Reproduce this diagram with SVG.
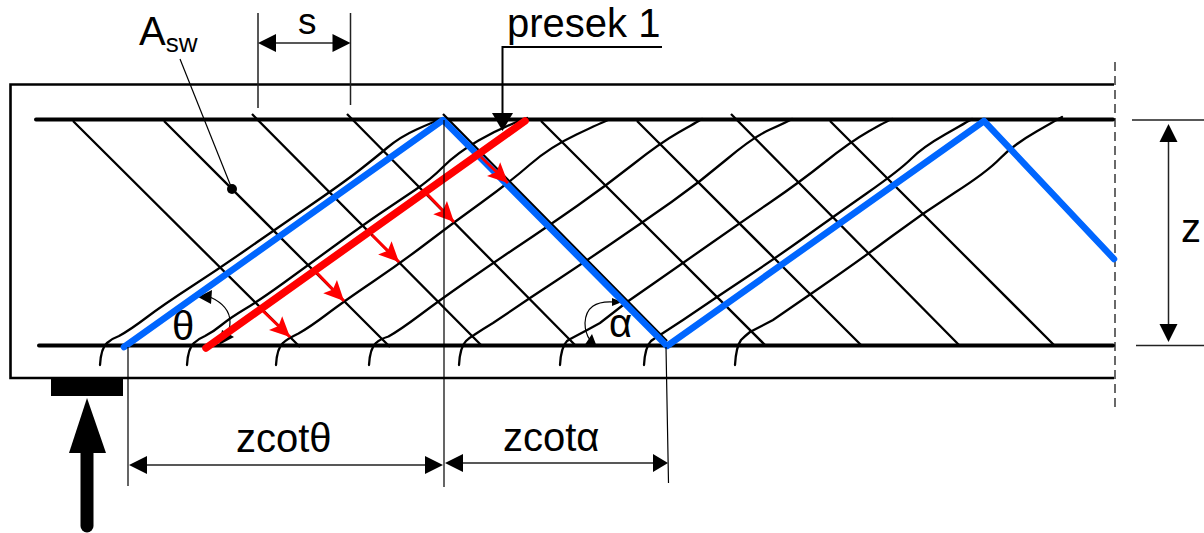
<svg xmlns="http://www.w3.org/2000/svg" width="1204" height="533" viewBox="0 0 1204 533">
<style>
text{font-family:"Liberation Sans",Arial,sans-serif;font-size:40px;fill:#000}
.b{fill:none;stroke:#000;stroke-linecap:round;stroke-linejoin:round}
.st{fill:none;stroke:#000;stroke-width:2.3}
.cr{fill:none;stroke:#000;stroke-width:2.3;stroke-linecap:round}
.th{fill:none;stroke:#000;stroke-width:1.2}
.d{fill:none;stroke:#222;stroke-width:1.5}
.hd{fill:#000}
.ra{stroke:#f00;stroke-width:3;fill:none;marker-end:url(#red)}
</style>
<defs>
<marker id="red" markerUnits="userSpaceOnUse" markerWidth="24" markerHeight="24" refX="20" refY="11" orient="auto" viewBox="0 0 24 24"><path d="M0 1.500L20 11L0 20.500L4 11Z" fill="#f00"/></marker>
</defs>
<g id="beam">
<path d="M1114 84.500H10.500V378H1114" fill="none" stroke="#000" stroke-width="2.600"/>
<path d="M1115 62V408" fill="none" stroke="#444" stroke-width="1.600" stroke-dasharray="9 5"/>
<path class="b" stroke-width="4" d="M36 119.500H1113M39 345.500H1113"/>
</g>
<g id="stirrups">
<path class="st" d="M73 121L300 347M164 121L390 347M252 114L482 346M347 114L576 346M443 114L667 341M541 121L766 346M637 121L862 346M731 114L960 346M830 121L1055 346"/>
</g>
<g id="cracks">
<path class="cr" d="M100 365Q101 348 107 343Q113 338 119 336Q130 330 146.500 317.500Q163 305 191.500 286.500Q220 268 246.500 249.500Q273 231 308 207Q343 183 359 170.500Q375 158 387.500 147.500Q400 137 416.500 129.500Q433 122 442 119"/>
<path class="cr" d="M187 365Q188 348 194 343Q198 339 205 336Q213 332 221.500 325Q230 318 245 309Q260 300 283.500 283Q307 266 335 245.500Q363 225 381.500 212.500Q400 200 415 190Q430 180 443.500 166.500Q457 153 478.500 140.500Q500 128 527 118"/>
<path class="cr" d="M276 365Q277 348 283 343Q287 339 298.500 333.500Q310 327 326.500 314.500Q343 302 372.500 282Q402 262 427.500 242.500Q453 223 481.500 202.500Q510 182 530 164.500Q550 147 576.500 134.500Q603 122 608 120"/>
<path class="cr" d="M369 365Q370 348 376 343Q380 339 388.500 336.500Q400 330 420 315Q440 300 466.500 281.500Q493 263 520 245Q547 227 577 206Q607 185 633.500 164Q660 143 678.500 132.500Q697 122 702 119"/>
<path class="cr" d="M459 365Q460 347 466 341Q469 338 474 335Q483 329 493 323Q511.500 310.500 530 298Q530 298 556.500 280.500Q583 263 613 242.500Q643 222 671.500 202Q700 182 726.500 159.500Q753 137 770 129.500Q787 122 792 119"/>
<path class="cr" d="M560 365Q561 347 567 341Q570 339 574 337Q586.500 330.500 600 323Q613.500 312.500 627 302Q627 302 655 282.500Q683 263 711.500 243Q740 223 770 202.500Q800 182 825 162Q850 142 868.500 131.500Q887 121 892 119"/>
<path class="cr" d="M644 365Q645 347 651 341Q655 338 660 335Q671.500 327.500 683 320Q700 308.500 717 297Q717 297 747 277Q777 257 805 237Q833 217 866.500 193.500Q900 170 911.500 158.500Q923 147 945 134.500Q967 122 972 119"/>
<path class="cr" d="M735 365Q736 347 741 340Q745 336 750 332Q761.500 326 773 320Q773 320 816.500 290Q860 260 891.500 236.500Q923 213 955 192.500Q987 172 1000 158.500Q1013 145 1036.500 131.500Q1060 118 1062 117"/>
</g>
<g id="angle-theta">
<path class="th" d="M210 297Q230 306 230 322Q230 330 226 337"/>
<path class="hd" d="M198 297L212 290L211 304ZM222 330L234 337L219 345Z"/>
<text x="172" y="340">θ</text>
</g>
<g id="angle-alpha">
<path class="th" d="M614 302Q586 300 585 323Q585 333 590 340"/>
<path class="hd" d="M622 302L612 298L612 306ZM592 334L584 346L597 347Z"/>
<text x="609" y="337">α</text>
</g>
<g id="truss-blue">
<path d="M124 347L443 120L667 346L984 121L1114 259" fill="none" stroke="#06f" stroke-width="6.500" stroke-linecap="round" stroke-linejoin="round"/>
</g>
<g id="force-red">
<path class="ra" d="M262 310L290 337"/>
<path class="ra" d="M317 273L344 301"/>
<path class="ra" d="M372 235L399 262"/>
<path class="ra" d="M427 194L454 222"/>
<path class="ra" d="M481 157L508 183"/>
<path d="M206 348L525 121" fill="none" stroke="#f00" stroke-width="7.500" stroke-linecap="round"/>
</g>
<g id="connectors">
<path class="th" d="M180 59L232 189"/>
<circle cx="232" cy="189" r="5" fill="#000"/>
<path class="d" d="M258 13V108M350.500 13V105M270 43H340"/>
<path class="hd" d="M258 43L276 34V52ZM350.500 43L332.500 34V52Z"/>
<path fill="none" stroke="#000" stroke-width="2" d="M662 47H502.500V115"/>
<path class="hd" d="M492 113H513L502.500 131Z"/>
<path class="d" d="M1132 120H1204M1136 345.500H1204M1168.500 135V330"/>
<path class="hd" d="M1168.500 124L1177.500 142H1159.500ZM1168.500 342L1177.500 324H1159.500Z"/>
<path class="th" d="M444 120V487M128 347V486M666 347L668.500 483"/>
<path class="d" d="M140 465H430M455 463H655"/>
<path class="hd" d="M129 465L147 456V474ZM443 465L425 456V474ZM445 463L463 454V472ZM668 463L653 454V472Z"/>
</g>
<g id="support">
<rect x="51" y="378" width="72" height="18" fill="#000"/>
<path class="hd" d="M87 398L106 453H69Z"/>
<path d="M87 450V526" stroke="#000" stroke-width="13" stroke-linecap="round" fill="none"/>
</g>
<g id="labels">
<text x="139" y="45">A<tspan font-size="26" dy="6.500">sw</tspan></text>
<text x="298" y="33.500" style="font-size:37px">s</text>
<text x="507" y="37">presek 1</text>
<text x="1181" y="242">z</text>
<text x="236" y="452">zcotθ</text>
<text x="503" y="451">zcotα</text>
</g>
</svg>
